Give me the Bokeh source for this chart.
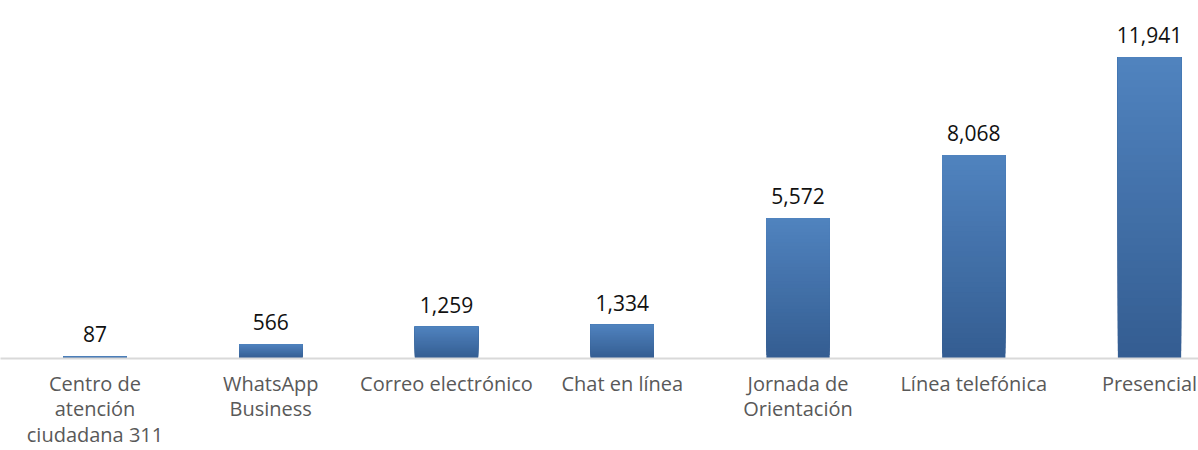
from bokeh.plotting import figure
from bokeh.models import Range1d, FixedTicker, ColumnDataSource, LabelSet
from bokeh.core.properties import value
from bokeh.embed import file_html
from bokeh.resources import INLINE

categories = ["Centro de\natención\nciudadana 311", "WhatsApp\nBusiness", "Correo electrónico",
              "Chat en línea", "Jornada de\nOrientación", "Línea telefónica", "Presencial"]
values = [87, 566, 1259, 1334, 5572, 8068, 11941]
value_labels = ["87", "566", "1,259", "1,334", "5,572", "8,068", "11,941"]

FONT = "Open Sans"
xs = [i + 0.5 for i in range(len(categories))]

p = figure(width=1198, height=450, output_backend="svg", toolbar_location=None,
           x_range=Range1d(-0.0377, 6.7787), y_range=Range1d(0, 14195),
           min_border_left=0, min_border_right=0, min_border_top=0, min_border_bottom=91)
p.outline_line_color = None
p.grid.visible = False
p.yaxis.visible = False
p.background_fill_color = "white"
p.border_fill_color = "white"

# gradient bars: overlapping slices per bar (each from its level up to the bar top)
N = 40
top_c = (80, 131, 191)
bot_c = (52, 93, 145)
qx, qb, qt, qc = [], [], [], []
for i in range(N):
    f = (i + 0.5) / N
    r = round(bot_c[0] + (top_c[0] - bot_c[0]) * f)
    g = round(bot_c[1] + (top_c[1] - bot_c[1]) * f)
    b = round(bot_c[2] + (top_c[2] - bot_c[2]) * f)
    for x, v in zip(xs, values):
        qx.append(x)
        qb.append(v * i / N)
        qt.append(v)
        qc.append("#%02x%02x%02x" % (r, g, b))
p.vbar(x=qx, bottom=qb, top=qt, width=0.36, fill_color=qc, line_color=None)

src = ColumnDataSource(dict(x=xs, y=values, t=value_labels))
labels = LabelSet(x="x", y="y", text="t", source=src, text_align="center",
                  text_baseline="bottom", y_offset=14, text_font=value(FONT),
                  text_font_size="21px", text_color="#111111")
p.add_layout(labels)

ax = p.xaxis[0]
ax.ticker = FixedTicker(ticks=xs)
ax.major_label_overrides = {x: c for x, c in zip(xs, categories)}
ax.major_tick_line_color = None
ax.minor_tick_line_color = None
ax.axis_line_color = "#d9d9d9"
ax.axis_line_width = 2
ax.major_label_standoff = 5
ax.major_label_text_font = FONT
ax.major_label_text_font_size = "20px"
ax.major_label_text_color = "#595959"
ax.major_label_text_line_height = 0.95

open("out.html", "w").write(file_html(p, INLINE))
